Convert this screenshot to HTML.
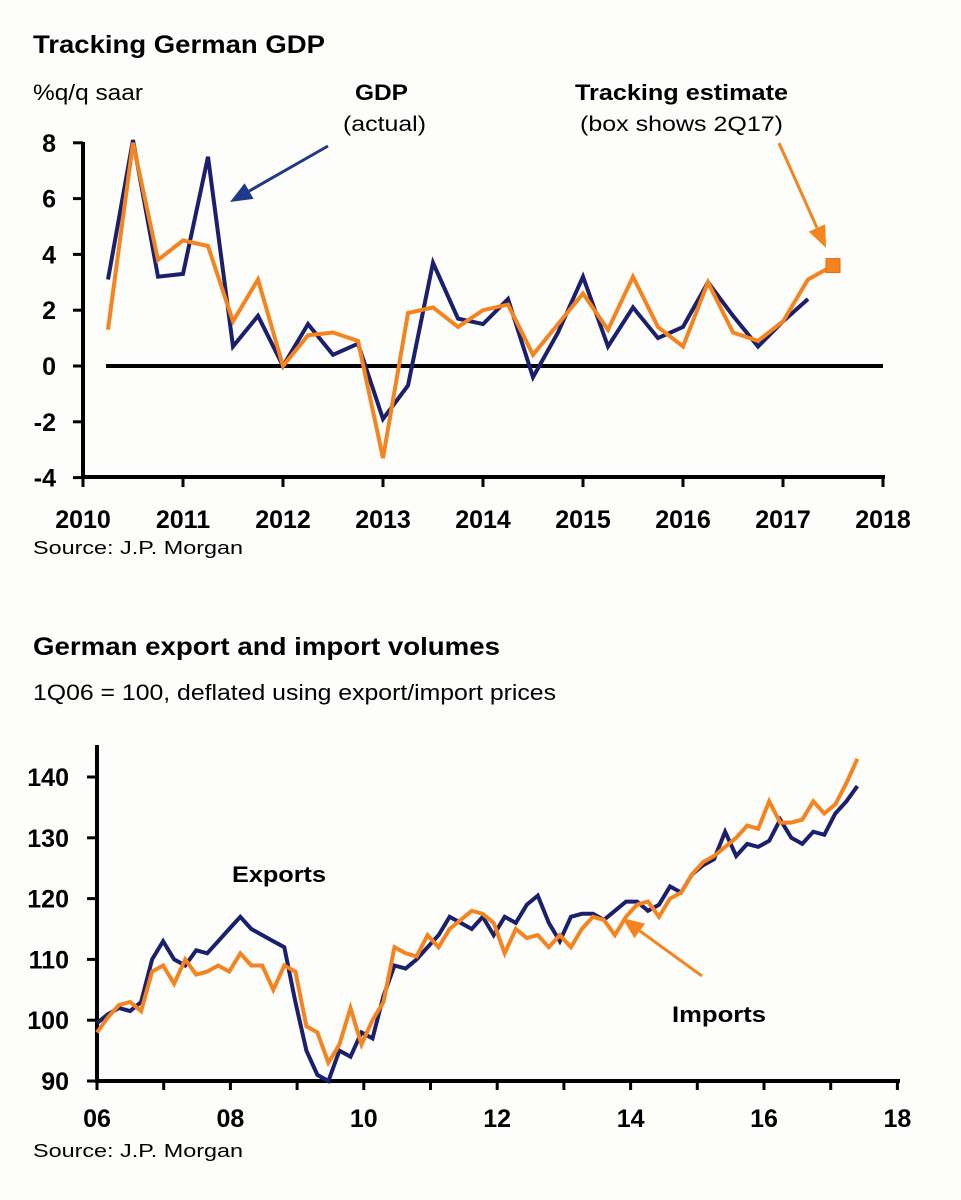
<!DOCTYPE html>
<html><head><meta charset="utf-8"><style>
html,body{margin:0;padding:0;background:#fdfdfb;}
svg{display:block;font-family:"Liberation Sans",Arial,sans-serif;}
</style></head><body>
<svg id="svg" width="961" height="1200" viewBox="0 0 961 1200">
<rect width="961" height="1200" fill="#fdfdfb"/>
<text x="33" y="53" font-size="25" font-weight="bold" textLength="292" lengthAdjust="spacingAndGlyphs">Tracking German GDP</text>
<text x="33" y="100" font-size="22" textLength="110" lengthAdjust="spacingAndGlyphs">%q/q saar</text>
<text x="355" y="100" font-size="22" font-weight="bold" textLength="53" lengthAdjust="spacingAndGlyphs">GDP</text>
<text x="343" y="131" font-size="21" textLength="83" lengthAdjust="spacingAndGlyphs">(actual)</text>
<text x="575" y="100" font-size="22" font-weight="bold" textLength="213" lengthAdjust="spacingAndGlyphs">Tracking estimate</text>
<text x="580" y="131" font-size="21" textLength="203" lengthAdjust="spacingAndGlyphs">(box shows 2Q17)</text>
<g id="topG"></g>
<text x="33" y="554" font-size="18" textLength="210" lengthAdjust="spacingAndGlyphs">Source: J.P. Morgan</text>

<text x="33" y="655" font-size="25" font-weight="bold" textLength="467" lengthAdjust="spacingAndGlyphs">German export and import volumes</text>
<text x="33" y="700" font-size="22" textLength="523" lengthAdjust="spacingAndGlyphs">1Q06 = 100, deflated using export/import prices</text>
<g id="botG"></g>
<text x="232" y="882" font-size="22" font-weight="bold" textLength="94" lengthAdjust="spacingAndGlyphs">Exports</text>
<text x="672" y="1022" font-size="22" font-weight="bold" textLength="94" lengthAdjust="spacingAndGlyphs">Imports</text>
<text x="33" y="1157" font-size="18" textLength="210" lengthAdjust="spacingAndGlyphs">Source: J.P. Morgan</text>
</svg>
<script>
// ---- GDP chart data ----
const gdpStart = 2010.25;
const gdpActual = [3.1,8.1,3.2,3.3,7.5,0.7,1.8,0.0,1.5,0.4,0.8,-1.9,-0.7,3.7,1.7,1.5,2.4,-0.4,1.2,3.2,0.7,2.1,1.0,1.4,3.0,1.8,0.7,1.6,2.4];
const gdpTracking = [1.3,8.0,3.8,4.5,4.3,1.6,3.1,0.0,1.1,1.2,0.9,-3.3,1.9,2.1,1.4,2.0,2.2,0.4,1.5,2.6,1.3,3.2,1.4,0.7,3.0,1.2,0.9,1.6,3.1];
const gdpEstimate = 3.6;
const gdpEstimateX = 2017.5;
const gdpYTicks = [8,6,4,2,0,-2,-4];
const gdpXTicks = [2010,2011,2012,2013,2014,2015,2016,2017,2018];

// ---- Trade chart data (bi-monthly, last point ~mid-2017) ----
const tradeStart = 2006.0;
const tradeEnd = 2017.4;
const exportsVals = [99.5,101,102,101.5,103,110,113,110,109,111.5,111,113,115,117,115,114,113,112,103,95,91,90,95,94,98,97,104,109,108.5,110,112,114,117,116,115,117,114,117,116,119,120.5,116,113,117,117.5,117.5,116.5,118,119.5,119.5,118,119,122,121,124,125.5,126.5,131,127,129,128.5,129.5,133,130,129,131,130.5,134,136,138.5];
const importsVals = [98,100.5,102.5,103,101.5,108,109,106,110,107.5,108,109,108,111,109,109,105,109,108,99,98,93,96,102,96,100,103,112,111,110.5,114,112,115,116.5,118,117.5,116,111,115,113.5,114,112,114,112,115,117,116.5,114,117,119,119.5,117,120,121,124,126,127,128.5,130,132,131.5,136,132.5,132.5,133,136,134,135.5,139,143];
const tradeYTicks = [140,130,120,110,100,90];
const tradeXTicks = ["06","08","10","12","14","16","18"];
const tradeXTickYears = [2006,2008,2010,2012,2014,2016,2018];

const NS = "http://www.w3.org/2000/svg";
function mk(parent, tag, attrs){const e=document.createElementNS(NS,tag);for(const k in attrs)e.setAttribute(k,attrs[k]);parent.appendChild(e);return e;}
function poly(parent, start, step, vals, xf, yf, color, w){
  const pts = vals.map((v,i)=>xf(start+i*step).toFixed(1)+','+yf(v).toFixed(1)).join(' ');
  return mk(parent,'polyline',{points:pts,fill:'none',stroke:color,'stroke-width':w,'stroke-linejoin':'miter'});
}
function arrow(parent,x1,y1,x2,y2,color,name){
  const g=mk(parent,'g',{});
  
  
  const dx=x2-x1,dy=y2-y1,L=Math.hypot(dx,dy),ux=dx/L,uy=dy/L,hl=22,hw=9;
  const bxp=x2-ux*hl,byp=y2-uy*hl;
  mk(g,'line',{x1:x1,y1:y1,x2:bxp,y2:byp,stroke:color,'stroke-width':3});
  mk(g,'polygon',{points:`${x2},${y2} ${bxp-uy*hw},${byp+ux*hw} ${bxp+uy*hw},${byp-ux*hw}`,fill:color});
}

// GDP axes
const gx = y => 83 + (y-2010)*100;
const gy = v => 366 - v*27.9;
const topG = document.getElementById('topG');
let ax = mk(topG,'line',{x1:83,y1:142,x2:83,y2:479,stroke:'#000','stroke-width':4});


ax = mk(topG,'line',{x1:81,y1:477,x2:885,y2:477,stroke:'#000','stroke-width':4});


gdpYTicks.forEach(v=>{
  mk(topG,'line',{x1:73,y1:gy(v),x2:83,y2:gy(v),stroke:'#000','stroke-width':3});
  const t=mk(topG,'text',{x:56,y:gy(v)+9,'font-size':25,'font-weight':'bold','text-anchor':'end'});
  t.textContent=v;
  
  
});
gdpXTicks.forEach(y=>{
  mk(topG,'line',{x1:gx(y),y1:477,x2:gx(y),y2:487,stroke:'#000','stroke-width':3});
  const t=mk(topG,'text',{x:gx(y),y:528,'font-size':25,'font-weight':'bold','text-anchor':'middle'});
  t.textContent=y;
  
  
});
let zl = mk(topG,'line',{x1:106,y1:gy(0),x2:883,y2:gy(0),stroke:'#000','stroke-width':4});


let l1 = poly(topG,gdpStart,0.25,gdpActual,gx,gy,'#1a1f6e',4);


let l2 = poly(topG,gdpStart,0.25,gdpTracking.concat([gdpEstimate]),gx,gy,'#f5841f',4);


let bx = mk(topG,'rect',{x:gx(gdpEstimateX)-7,y:gy(gdpEstimate)-7,width:14,height:14,fill:'#f5841f',stroke:'#e86a10','stroke-width':1});


arrow(topG,328,146,230,202,'#1f3a8a','gdp-arrow');
arrow(topG,779,143,826,248,'#f5841f','tracking-arrow');

// Trade chart
const tx = y => 97 + (y-2006)*66.7;
const ty = v => 1081 - (v-90)*6.08;
const botG = document.getElementById('botG');
ax = mk(botG,'line',{x1:97,y1:745,x2:97,y2:1083,stroke:'#000','stroke-width':4});


ax = mk(botG,'line',{x1:95,y1:1081,x2:900,y2:1081,stroke:'#000','stroke-width':4});


tradeYTicks.forEach(v=>{
  mk(botG,'line',{x1:87,y1:ty(v),x2:97,y2:ty(v),stroke:'#000','stroke-width':3});
  const t=mk(botG,'text',{x:69,y:ty(v)+9,'font-size':25,'font-weight':'bold','text-anchor':'end'});
  t.textContent=v;
  
  
});
for(let y=2006;y<=2018;y++){
  mk(botG,'line',{x1:tx(y),y1:1081,x2:tx(y),y2:1090,stroke:'#000','stroke-width':3});
}
tradeXTicks.forEach((lab,i)=>{
  const t=mk(botG,'text',{x:tx(tradeXTickYears[i]),y:1127,'font-size':25,'font-weight':'bold','text-anchor':'middle'});
  t.textContent=lab;
  
  
});
const stepE = (tradeEnd-tradeStart)/(exportsVals.length-1);
const stepI = (tradeEnd-tradeStart)/(importsVals.length-1);
let e1 = poly(botG,tradeStart,stepE,exportsVals,tx,ty,'#1a1f6e',4);


let e2 = poly(botG,tradeStart,stepI,importsVals,tx,ty,'#f5841f',4);


arrow(botG,702,976,622,918,'#f5841f','imports-arrow');
</script>
</body></html>
